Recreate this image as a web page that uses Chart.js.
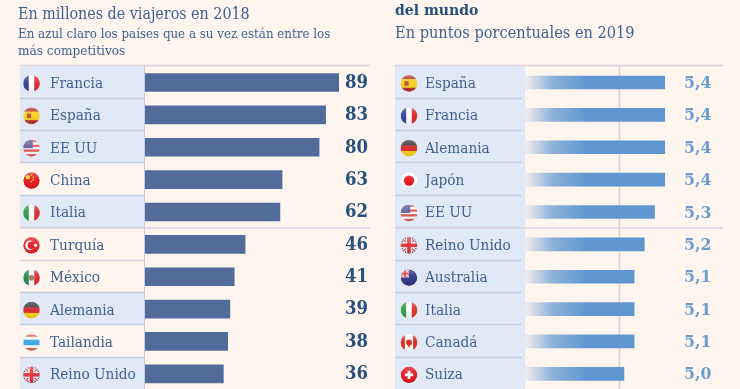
<!DOCTYPE html>
<html lang="es">
<head>
<meta charset="utf-8">
<title>Turismo</title>
<script src="https://cdn.jsdelivr.net/npm/chart.js@4"></script>
<style>
html,body{margin:0;padding:0;width:740px;height:389px;overflow:hidden;background:#fef5ee;}
body{position:relative;font-family:"DejaVu Serif Condensed","DejaVu Serif",serif;color:#3f6193;}
canvas{position:absolute;top:0;}
.t{position:absolute;white-space:nowrap;}
</style>
</head>
<body>
<canvas id="left" width="370" height="400" style="left:0;width:370px;height:400px"></canvas>
<canvas id="right" width="370" height="400" style="left:370px;width:370px;height:400px"></canvas>
<div class="t" style="left:18px;top:4px;font-size:15.9px;line-height:20px">En millones de viajeros en 2018</div>
<div class="t" style="left:18px;top:26px;font-size:13.2px;line-height:16px">En azul claro los países que a su vez están entre los</div>
<div class="t" style="left:18px;top:42px;font-size:13.5px;line-height:16px">más competitivos</div>
<div class="t" style="left:395px;top:0px;font-size:15.6px;line-height:20px;font-weight:bold;color:#27507f">del mundo</div>
<div class="t" style="left:395px;top:23px;font-size:16.2px;line-height:20px">En puntos porcentuales en 2019</div>
<script>
const leftCountries = ["Francia","España","EE UU","China","Italia","Turquía","México","Alemania","Tailandia","Reino Unido"];
const leftValues = [89,83,80,63,62,46,41,39,38,36];
const leftHighlighted = [true,true,true,false,true,false,false,true,false,true];

const rightCountries = ["España","Francia","Alemania","Japón","EE UU","Reino Unido","Australia","Italia","Canadá","Suiza"];
const rightValues = [5.4,5.4,5.4,5.4,5.3,5.2,5.1,5.1,5.1,5.0];
const rightHighlighted = [true,true,true,true,true,true,true,true,true,true];
const rightReference = 4.95;

const SERIF = '"DejaVu Serif Condensed", "DejaVu Serif", serif';

function stripesV(c,x,y,r,cols){const w=2*r/cols.length;cols.forEach((k,i)=>{c.fillStyle=k;c.fillRect(x-r+i*w,y-r,w+.5,2*r);});}
function stripesH(c,x,y,r,rows){let t=y-r;rows.forEach(([k,h])=>{c.fillStyle=k;c.fillRect(x-r,t,2*r,2*r*h+.5);t+=2*r*h;});}
function disc(c,x,y,r,k){c.fillStyle=k;c.beginPath();c.arc(x,y,r,0,Math.PI*2);c.fill();}
function ukFlag(c,x,y,r){
  c.fillStyle='#2f3f86';c.fillRect(x-r,y-r,2*r,2*r);
  c.strokeStyle='#fff';c.lineWidth=r*.42;
  c.beginPath();c.moveTo(x-r,y-r);c.lineTo(x+r,y+r);c.moveTo(x+r,y-r);c.lineTo(x-r,y+r);c.stroke();
  c.strokeStyle='#e8303c';c.lineWidth=r*.16;c.stroke();
  c.fillStyle='#fff';c.fillRect(x-r,y-r*.36,2*r,r*.72);c.fillRect(x-r*.36,y-r,r*.72,2*r);
  c.fillStyle='#e52f3a';c.fillRect(x-r,y-r*.22,2*r,r*.44);c.fillRect(x-r*.22,y-r,r*.44,2*r);
}
const flagPainters = {
  "Francia":(c,x,y,r)=>stripesV(c,x,y,r,['#2f3f94','#ffffff','#d8262c']),
  "Italia":(c,x,y,r)=>stripesV(c,x,y,r,['#2f9a45','#ffffff','#d5302a']),
  "España":(c,x,y,r)=>{stripesH(c,x,y,r,[['#b5332c',.24],['#f5d020',.52],['#b5332c',.24]]);c.fillStyle='#b5512c';c.fillRect(x-r*.55,y-r*.28,r*.5,r*.55);},
  "EE UU":(c,x,y,r)=>{const n=7,rows=[];for(let i=0;i<n;i++)rows.push([i%2?'#ffffff':'#e0524e',1/n]);stripesH(c,x,y,r,rows);c.fillStyle='#5a5f9e';c.fillRect(x-r,y-r,r*1.15,r);},
  "China":(c,x,y,r)=>{disc(c,x,y,r,'#e2141c');[[-.45,-.4,.28],[0,-.65,.1],[.2,-.38,.1],[.2,-.08,.1],[-.02,.12,.1]].forEach(p=>disc(c,x+p[0]*r,y+p[1]*r,p[2]*r,'#f7d31f'));},
  "Turquía":(c,x,y,r)=>{disc(c,x,y,r,'#e51b23');disc(c,x-r*.18,y,r*.58,'#fff');disc(c,x,y,r*.46,'#e51b23');disc(c,x+r*.5,y,r*.2,'#fff');},
  "México":(c,x,y,r)=>{stripesV(c,x,y,r,['#1f8a4c','#ffffff','#d8262c']);disc(c,x,y,r*.34,'#a2785a');},
  "Alemania":(c,x,y,r)=>stripesH(c,x,y,r,[['#3a3a3a',.34],['#d8262c',.33],['#f9cf10',.33]]),
  "Tailandia":(c,x,y,r)=>stripesH(c,x,y,r,[['#e2574c',.16],['#ffffff',.17],['#3aa5e8',.34],['#ffffff',.17],['#e2574c',.16]]),
  "Reino Unido":ukFlag,
  "Japón":(c,x,y,r)=>{disc(c,x,y,r,'#ffffff');disc(c,x,y,r*.62,'#e8141c');},
  "Australia":(c,x,y,r)=>{disc(c,x,y,r,'#2d3384');c.save();c.beginPath();c.rect(x-r,y-r,r,r);c.clip();ukFlag(c,x-r*.5,y-r*.5,r*.55);c.restore();},
  "Canadá":(c,x,y,r)=>{stripesV(c,x,y,r,['#e2231a','#ffffff','#ffffff','#e2231a']);disc(c,x,y,r*.36,'#e2231a');c.fillStyle='#e2231a';c.fillRect(x-r*.08,y,r*.16,r*.55);},
  "Suiza":(c,x,y,r)=>{disc(c,x,y,r,'#e2141c');c.fillStyle='#fff';c.fillRect(x-r*.5,y-r*.17,r,r*.34);c.fillRect(x-r*.17,y-r*.5,r*.34,r);}
};
function drawFlag(c,name,x,y,r){
  c.save();c.beginPath();c.arc(x,y,r,0,Math.PI*2);c.clip();
  flagPainters[name](c,x,y,r);
  const g=c.createLinearGradient(0,y-r,0,y+r);
  g.addColorStop(0,'rgba(255,255,255,.28)');g.addColorStop(.45,'rgba(255,255,255,.05)');g.addColorStop(1,'rgba(0,0,0,.08)');
  c.fillStyle=g;c.fillRect(x-r,y-r,2*r,2*r);
  c.restore();
}

function rowBackground(cfg){
  return {
    id:'rowBackground',
    beforeDraw(chart){
      const c=chart.ctx,y=chart.scales.y,a=chart.chartArea,o=cfg;
      const step=y.getPixelForValue(1)-y.getPixelForValue(0);
      c.save();
      o.highlighted.forEach((h,i)=>{
        if(!h)return;
        const t=y.getPixelForValue(i)-step/2;
        c.fillStyle='#e1e9f6';c.fillRect(o.bandLeft,t,o.bandRight-o.bandLeft,step);
      });
      o.highlighted.forEach((h,i)=>{
        if(i===o.highlighted.length-1)return;
        const b=Math.round(y.getPixelForValue(i)+step/2)-.5;
        const dark=h||o.highlighted[i+1];
        c.strokeStyle=dark?'#c3cde4':'#ddd5df';c.lineWidth=1.3;
        c.beginPath();c.moveTo(o.bandLeft,b);c.lineTo(o.sepRight,b);c.stroke();
      });
      c.strokeStyle='#dcd3df';c.lineWidth=1.3;
      const top=Math.round(a.top)-.5;
      c.beginPath();c.moveTo(o.bandLeft,top);c.lineTo(o.ruleRight,top);c.stroke();
      const mid=Math.round(y.getPixelForValue(4)+step/2);
      c.lineWidth=1.6;
      c.beginPath();c.moveTo(o.bandLeft,mid);c.lineTo(o.ruleRight,mid);c.stroke();
      if(o.axisLine){
        c.strokeStyle='#c9c9df';c.lineWidth=1;
        c.beginPath();c.moveTo(a.left-.5,top);c.lineTo(a.left-.5,a.bottom);c.stroke();
      }
      if(o.reference!=null){
        const rx=Math.round(chart.scales.x.getPixelForValue(o.reference))+.5;
        c.strokeStyle='#dccfd8';c.lineWidth=1.5;
        c.beginPath();c.moveTo(rx,top);c.lineTo(rx,a.bottom);c.stroke();
      }
      chart.data.labels.forEach((n,i)=>drawFlag(c,n,o.flagX,y.getPixelForValue(i)+1,o.flagR));
      c.restore();
    },
    afterDatasetsDraw(chart){
      const c=chart.ctx,y=chart.scales.y,o=cfg;
      c.save();
      c.font=o.valueFont;c.fillStyle=o.valueColor;c.textAlign='left';c.textBaseline='middle';
      chart.data.datasets[0].data.forEach((v,i)=>{
        c.fillText(o.format(v),o.valueX,y.getPixelForValue(i)+o.valueDy);
      });
      c.restore();
    }
  };
}

function makeChart(id,labels,values,min,max,thickness,padLeft,axisWidth,color,plugin){
  return new Chart(document.getElementById(id),{
    type:'bar',
    data:{labels:labels,datasets:[{data:values,backgroundColor:color,borderWidth:0,barThickness:thickness,borderSkipped:false}]},
    plugins:[plugin],
    options:{
      indexAxis:'y',responsive:false,animation:false,
      layout:{padding:{top:66.3,left:padLeft,right:0,bottom:10}},
      plugins:{legend:{display:false},tooltip:{enabled:false}},
      scales:{
        x:{display:false,min:min,max:max},
        y:{
          grid:{display:false},border:{display:false},
          ticks:{crossAlign:'far',color:'#3f6193',font:{family:SERIF,size:15.2},padding:0,autoSkip:false,labelOffset:1.5},
          afterFit(s){s.width=axisWidth;}
        }
      }
    }
  });
}

makeChart('left',leftCountries,leftValues,0,103.4,18,50,95,'#516c9a',rowBackground({
  highlighted:leftHighlighted,bandLeft:20,bandRight:144,sepRight:144,ruleRight:370,axisLine:true,
  flagX:31.5,flagR:8.3,valueX:345,valueDy:.5,valueColor:'#27507f',
  valueFont:'bold 18.4px '+SERIF,format:v=>String(v)
}));

function rightGradient(ctx){
  const a=ctx.chart.chartArea;
  if(!a)return '#5f96d0';
  const g=ctx.chart.ctx.createLinearGradient(a.left,0,a.left+62,0);
  g.addColorStop(0,'rgba(95,150,208,0.08)');
  g.addColorStop(.45,'rgba(95,150,208,0.72)');
  g.addColorStop(1,'rgba(95,150,208,1)');
  return g;
}
makeChart('right',rightCountries,rightValues,4.03,6.138,13,55,100,rightGradient,rowBackground({
  highlighted:rightHighlighted,bandLeft:25,bandRight:155,sepRight:152,ruleRight:353,axisLine:false,reference:rightReference,
  flagX:39,flagR:8.3,valueX:314,valueDy:1,valueColor:'#6b9cd3',
  valueFont:'bold 17.5px '+SERIF,format:v=>v.toFixed(1).replace('.',',')
}));
</script>
</body>
</html>
